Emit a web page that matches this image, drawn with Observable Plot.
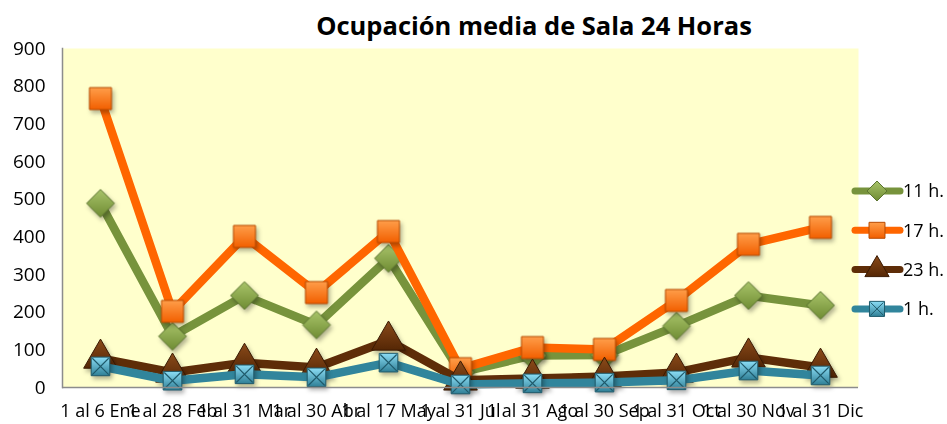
<!DOCTYPE html>
<html><head><meta charset="utf-8">
<script src="https://cdn.jsdelivr.net/npm/d3@7"></script>
<script src="https://cdn.jsdelivr.net/npm/@observablehq/plot@0.6"></script>
<style>
body{margin:0;background:#fff;}
#wrap{position:relative;width:947px;height:424px;font-family:"Open Sans",sans-serif;overflow:hidden;}
#title{position:absolute;left:534px;top:8px;transform:translateX(-50%);white-space:nowrap;font-weight:bold;font-size:25.5px;color:#000;}
#legend{position:absolute;left:0;top:0;}
#chart svg{display:block;}
</style></head>
<body>
<div id="wrap">
  <div id="chart"></div>
  <div id="title">Ocupación media de Sala 24 Horas</div>
  <svg id="legend" width="947" height="424"></svg>
</div>
<script>
const categories = ["1 al 6 Ene","1 al 28 Feb","1 al 31 Mar","1 al 30 Abr","1 al 17 May","1 al 31 Jul","1 al 31 Ago","1 al 30 Sep","1 al 31 Oct","1 al 30 Nov","1 al 31 Dic"];
const seriesNames = ["11 h.","17 h.","23 h.","1 h."];
const values11 = [489,136,244,166,343,40,85,86,163,244,218];
const values17 = [767,202,401,252,414,50,106,101,231,380,425];
const values23 = [77,40,66,53,125,19,24,29,40,80,53];
const values1 = [56,18,35,27,66,8,11,13,19,45,32];
const yTicks = [0,100,200,300,400,500,600,700,800,900];

const seriesValues = [values11, values17, values23, values1];
const styles = {
  "11 h.": {line:"#77933C", grad:"gGreen", stroke:"#5B7430", symbol:"diamond2", r:12.5, lr:9},
  "17 h.": {line:"#FF6600", grad:"gOrange", stroke:"#B84A00", symbol:"square", r:12.4, lr:9},
  "23 h.": {line:"#5E2D08", grad:"gBrown", stroke:"#3A1A03", symbol:"triangle", r:12.5, lr:9},
  "1 h.":  {line:"#31859C", grad:"gBlue", stroke:"#1F5A6B", symbol:"square", r:10.5, lr:8.5}
};
const data = seriesNames.flatMap((s, i) => categories.map((c, j) => ({series: s, cat: c, value: seriesValues[i][j]})));

const marks = [Plot.frame({fill:"#FFFFCC", stroke:null})];
for (const s of seriesNames) {
  const d = data.filter(e => e.series === s);
  const st = styles[s];
  marks.push(Plot.line(d, {x:"cat", y:"value", stroke:st.line, strokeWidth:8.5, strokeLinejoin:"round", strokeLinecap:"round"}));
  marks.push(Plot.dot(d, {x:"cat", y:"value", symbol:st.symbol, r:st.r, fill:`url(#${st.grad})`, stroke:st.stroke, strokeWidth:1}));
  if (s === "1 h.") marks.push(Plot.dot(d, {x:"cat", y:"value", symbol:"times", r:7.5, stroke:st.stroke, strokeWidth:1.2}));
}
marks.push(Plot.ruleY([0], {stroke:"#8C8C8C", strokeWidth:1.5}));
marks.push(Plot.frame({anchor:"left", stroke:"#8C8C8C", strokeWidth:1.5}));
marks.push(Plot.axisY(yTicks, {tickSize:0, tickPadding:17, fontSize:19, label:null}));
marks.push(Plot.axisX(categories, {tickSize:0, tickPadding:17, fontSize:18, label:null}));

const chart = Plot.plot({
  width:947, height:424,
  marginLeft:62, marginRight:89, marginTop:48, marginBottom:37,
  style:{fontFamily:'"Open Sans", sans-serif', color:"#000", background:"transparent", overflow:"visible"},
  x:{type:"point", domain:categories, padding:0.5},
  y:{domain:[0,900]},
  marks
});
const defs = d3.select(chart).insert("defs", ":first-child");
const gradSpec = {
  gGreen:["#A9C46A","#6F8C33"],
  gOrange:["#FF9E4A","#F25F00"],
  gBrown:["#8A4A1A","#552705"],
  gBlue:["#8BDDF5","#2F7F96"]
};
for (const [id,[a,b]] of Object.entries(gradSpec)) {
  const g = defs.append("linearGradient").attr("id", id).attr("x1",0).attr("y1",0).attr("x2",0).attr("y2",1);
  g.append("stop").attr("offset","0%").attr("stop-color",a);
  g.append("stop").attr("offset","100%").attr("stop-color",b);
}
d3.select(chart).selectAll("g[fill^='url']").style("filter","drop-shadow(2px 3px 2px rgba(0,0,0,0.3))");
document.getElementById("chart").appendChild(chart);

// legend
const lg = d3.select("#legend");
const lgDefs = lg.append("defs");
for (const [id,[a,b]] of Object.entries(gradSpec)) {
  const g = lgDefs.append("linearGradient").attr("id", id+"L").attr("x1",0).attr("y1",0).attr("x2",0).attr("y2",1);
  g.append("stop").attr("offset","0%").attr("stop-color",a);
  g.append("stop").attr("offset","100%").attr("stop-color",b);
}
const symMap = {diamond2:d3.symbolDiamond2, square:d3.symbolSquare, triangle:d3.symbolTriangle};
seriesNames.forEach((s,i) => {
  const st = styles[s];
  const y = 191 + i*39.3;
  const g = lg.append("g");
  g.append("line").attr("x1",855).attr("x2",900).attr("y1",y).attr("y2",y).attr("stroke",st.line).attr("stroke-width",7).attr("stroke-linecap","round");
  g.append("path").attr("d", d3.symbol(symMap[st.symbol], Math.PI*st.lr*st.lr)()).attr("transform",`translate(877,${y})`).attr("fill",`url(#${st.grad}L)`).attr("stroke",st.stroke).attr("stroke-width",1);
  if (s === "1 h.") g.append("path").attr("d", d3.symbol(d3.symbolTimes, Math.PI*6*6)()).attr("transform",`translate(877,${y})`).attr("fill","none").attr("stroke",st.stroke).attr("stroke-width",1);
  g.append("text").attr("x",903).attr("y",y).attr("dy","0.36em").attr("font-size",18).attr("font-family",'"Open Sans", sans-serif').text(s);
});
</script>
</body></html>
